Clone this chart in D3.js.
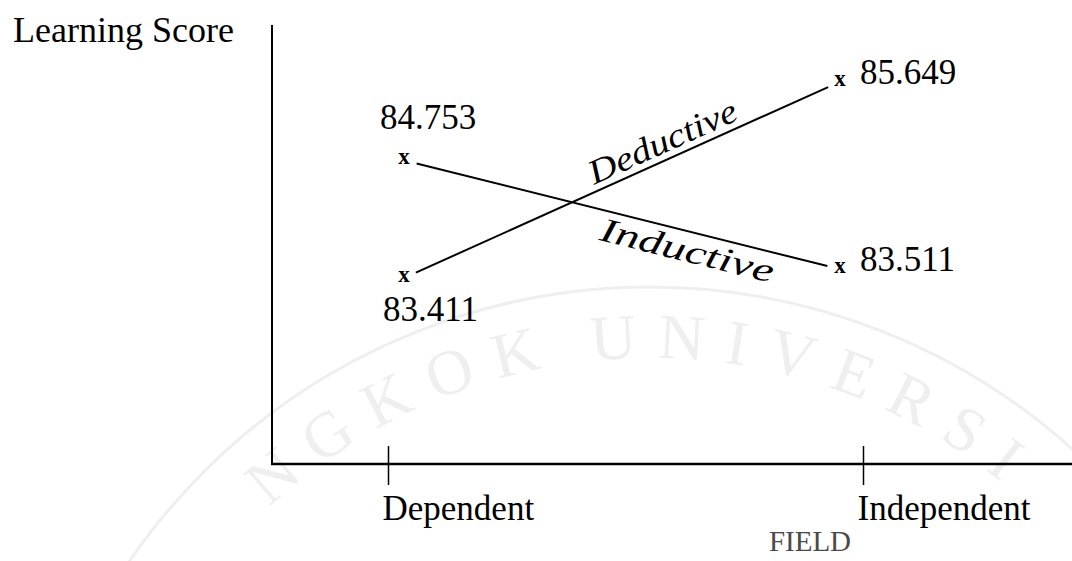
<!DOCTYPE html>
<html>
<head>
<meta charset="utf-8">
<script src="https://cdn.jsdelivr.net/npm/d3@7"></script>
<style>
  body { margin: 0; background: #fff; }
  text { font-family: "Liberation Serif", "Times New Roman", serif; }
</style>
</head>
<body>
<div id="chart"></div>
<script>
'use strict';

// data
var fields = ['Dependent', 'Independent'];
var seriesNames = ['Inductive', 'Deductive'];
var inductiveScores = [84.753, 83.511];
var deductiveScores = [83.411, 85.649];
var yAxisTitle = 'Learning Score';
var xAxisTitle = 'FIELD';
var watermarkWords = ['BANGKOK', 'UNIVERSITY'];

var width = 1072;
var height = 561;

var svg = d3.select('#chart')
            .append('svg')
            .attr('width', width)
            .attr('height', height);

// faint university seal behind the chart
var seal = svg.append('g').attr('id', 'watermark');
var sealX = 650, sealY = 918, sealR = 631, textR = 560;
var sealColor = '#efefef';
var sealFont = 64, sealSpacing = 20;

seal.append('circle')
    .attr('cx', sealX)
    .attr('cy', sealY)
    .attr('r', sealR)
    .attr('fill', 'none')
    .attr('stroke', sealColor)
    .attr('stroke-width', 3);

// measure letters so they can be laid round the circle one by one
var probe = seal.append('text').style('font-size', sealFont + 'px');
function charWidth(c){
    probe.text(c);
    return probe.node().getComputedTextLength() + sealSpacing;
}

var sealLetters = [];
watermarkWords.forEach(function(word, wi){
    var widths = word.split('').map(charWidth);
    var total = d3.sum(widths);
    // first word ends just left of the top, second starts just right of it
    var startDeg = wi === 0 ? -9 - (total / textR) * 180 / Math.PI : -6;
    var cum = 0;
    word.split('').forEach(function(c, k){
        var deg = startDeg + ((cum + (widths[k] - sealSpacing) / 2) / textR) * 180 / Math.PI;
        cum += widths[k];
        var rad = deg * Math.PI / 180;
        sealLetters.push({
            c: c,
            deg: deg,
            x: sealX + textR * Math.sin(rad),
            y: sealY - textR * Math.cos(rad)
        });
    });
});
probe.remove();

seal.selectAll('text.seal')
    .data(sealLetters.filter(function(d){
        return d.x > 60 && d.x < width - 60 && d.y < height - 60;
    }))
    .enter()
    .append('text')
    .attr('class', 'seal')
    .attr('transform', function(d){ return 'translate(' + d.x + ',' + d.y + ') rotate(' + d.deg + ')'; })
    .attr('text-anchor', 'middle')
    .attr('fill', sealColor)
    .style('font-size', sealFont + 'px')
    .text(function(d){ return d.c; });

// scales
var x = d3.scalePoint()
          .domain(fields)
          .range([388, 863]);

// markers sit a little inside the tick marks
var xMark = d3.scalePoint()
              .domain(fields)
              .range([404, 840]);

var y = d3.scaleLinear()
          .domain([83, 86])
          .range([314, 51]);

var axisLeft = 272;
var axisBottom = 464;

// y axis: a bare line
svg.append('line')
    .attr('x1', axisLeft)
    .attr('x2', axisLeft)
    .attr('y1', 25)
    .attr('y2', axisBottom)
    .attr('stroke', '#000')
    .attr('stroke-width', 2);

svg.append('line')
    .attr('x1', axisLeft - 1)
    .attr('x2', width)
    .attr('y1', axisBottom)
    .attr('y2', axisBottom)
    .attr('stroke', '#000')
    .attr('stroke-width', 2.5);

var xAxis = svg.append('g')
               .attr('transform', 'translate(0,' + axisBottom + ')')
               .call(d3.axisBottom(x).tickSize(21).tickPadding(0));

xAxis.select('.domain').remove();
xAxis.selectAll('.tick line')
     .attr('y1', -18)
     .attr('stroke-width', 1.5);
xAxis.selectAll('.tick text')
     .attr('text-anchor', 'start')
     .attr('x', -6)
     .attr('y', 56)
     .attr('dy', null)
     .attr('fill', '#000')
     .style('font-family', '"Liberation Serif", serif')
     .style('font-size', '35px');

svg.append('text')
    .attr('x', 13)
    .attr('y', 42)
    .style('font-size', '36px')
    .text(yAxisTitle);

svg.append('text')
    .attr('x', 810)
    .attr('y', 551)
    .attr('text-anchor', 'middle')
    .attr('fill', '#4a4a4a')
    .style('font-size', '29px')
    .text(xAxisTitle);

// series
var series = [
    { name: seriesNames[0], values: inductiveScores, leftLabel: 'above', side: 1, t: 0.66, textLen: 178 },
    { name: seriesNames[1], values: deductiveScores, leftLabel: 'below', side: -1, t: 0.61, textLen: 160 }
];

series.forEach(function(s){
    var pts = fields.map(function(f, i){
        return { field: f, value: s.values[i], px: xMark(f), py: y(s.values[i]), i: i };
    });

    var g = svg.append('g').attr('class', 'series');

    var dx = pts[1].px - pts[0].px;
    var dy = pts[1].py - pts[0].py;
    var len = Math.sqrt(dx * dx + dy * dy);
    var ux = dx / len, uy = dy / len;
    var gap = 13;

    g.append('line')
        .attr('x1', pts[0].px + ux * gap)
        .attr('y1', pts[0].py + uy * gap)
        .attr('x2', pts[1].px - ux * gap)
        .attr('y2', pts[1].py - uy * gap)
        .attr('stroke', '#000')
        .attr('stroke-width', 2);

    g.selectAll('text.marker')
        .data(pts)
        .enter()
        .append('text')
        .attr('class', 'marker')
        .attr('x', function(d){ return d.px; })
        .attr('y', function(d){ return d.py + 4; })
        .attr('text-anchor', 'middle')
        .style('font-size', '23px')
        .style('font-weight', 'bold')
        .text('x');

    g.selectAll('text.value')
        .data(pts)
        .enter()
        .append('text')
        .attr('class', 'value')
        .attr('x', function(d){
            if(d.i === 1) return d.px + 20;
            return s.leftLabel === 'above' ? d.px - 24 : d.px - 21;
        })
        .attr('y', function(d){
            if(d.i === 1) return d.py + 2;
            return s.leftLabel === 'above' ? d.py - 31 : d.py + 43;
        })
        .style('font-size', '35px')
        .text(function(d){ return d3.format('.3f')(d.value); });

    // hand-written series name along the line
    var cx = pts[0].px + dx * s.t;
    var cy = pts[0].py + dy * s.t;
    var angle = Math.atan2(dy, dx) * 180 / Math.PI;
    g.append('text')
        .attr('transform', 'translate(' + cx + ',' + cy + ') rotate(' + angle + ')')
        .attr('text-anchor', 'middle')
        .attr('y', s.side > 0 ? 30 : -7)
        .attr('textLength', s.textLen)
        .attr('lengthAdjust', 'spacingAndGlyphs')
        .style('font-size', '34px')
        .style('font-style', 'italic')
        .text(s.name);
});
</script>
</body>
</html>
